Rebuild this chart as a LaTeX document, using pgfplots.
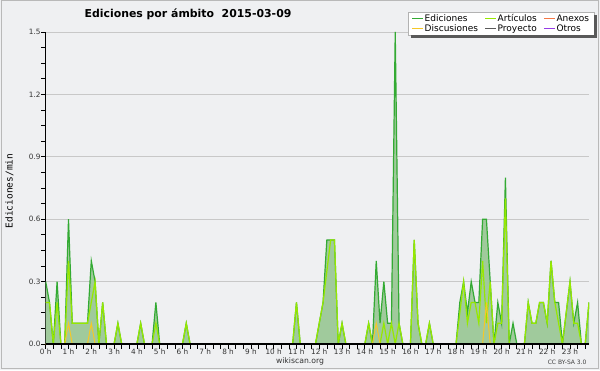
\documentclass[border=0pt]{standalone}
\usepackage{fontspec}
\setmainfont{DejaVu Sans}
\newfontfamily\monofont{DejaVu Sans Mono}
\usepackage{pgfplots}
\usepackage{pgfplotstable}
\pgfplotsset{compat=1.18}
\definecolor{bg}{RGB}{239,240,242}
\definecolor{edgreen}{RGB}{51,170,51}
\definecolor{edfill}{RGB}{160,202,156}
\definecolor{artgreen}{RGB}{150,232,0}
\definecolor{discyellow}{RGB}{245,200,40}
\definecolor{anexos}{RGB}{245,120,70}
\definecolor{proyecto}{RGB}{90,90,90}
\definecolor{otros}{RGB}{150,60,230}
\definecolor{gridgray}{RGB}{200,200,200}
\pgfplotstableread{
i ed art disc
0 0.3 0.2 0
1 0.2 0.2 0
2 0 0 0
3 0.3 0.2 0
4 0 0 0
5 0 0 0
6 0.6 0.4 0.1
7 0.1 0.1 0
8 0.1 0.1 0
9 0.1 0.1 0
10 0.1 0.1 0
11 0.1 0.1 0
12 0.4 0.2 0.1
13 0.3 0.3 0
14 0 0 0
15 0.2 0.2 0
16 0 0 0
17 0 0 0
18 0 0 0
19 0.1 0.1 0
20 0 0 0
21 0 0 0
22 0 0 0
23 0 0 0
24 0 0 0
25 0.1 0.1 0
26 0 0 0
27 0 0 0
28 0 0 0
29 0.2 0.1 0
30 0 0 0
31 0 0 0
32 0 0 0
33 0 0 0
34 0 0 0
35 0 0 0
36 0 0 0
37 0.1 0.1 0
38 0 0 0
39 0 0 0
40 0 0 0
41 0 0 0
42 0 0 0
43 0 0 0
44 0 0 0
45 0 0 0
46 0 0 0
47 0 0 0
48 0 0 0
49 0 0 0
50 0 0 0
51 0 0 0
52 0 0 0
53 0 0 0
54 0 0 0
55 0 0 0
56 0 0 0
57 0 0 0
58 0 0 0
59 0 0 0
60 0 0 0
61 0 0 0
62 0 0 0
63 0 0 0
64 0 0 0
65 0 0 0
66 0.2 0.2 0
67 0 0 0
68 0 0 0
69 0 0 0
70 0 0 0
71 0 0 0
72 0.1 0.1 0
73 0.2 0.2 0
74 0.5 0.35 0
75 0.5 0.5 0
76 0.5 0.5 0
77 0 0 0
78 0.1 0.1 0
79 0 0 0
80 0 0 0
81 0 0 0
82 0 0 0
83 0 0 0
84 0 0 0
85 0.1 0.1 0
86 0 0 0
87 0.4 0 0.1
88 0.1 0 0
89 0.3 0.1 0
90 0.1 0 0
91 0.1 0.1 0
92 1.5 0 0
93 0.1 0.1 0
94 0 0 0
95 0 0 0
96 0 0 0
97 0.5 0.5 0
98 0.1 0.1 0
99 0 0 0
100 0 0 0
101 0.1 0.1 0
102 0 0 0
103 0 0 0
104 0 0 0
105 0 0 0
106 0 0 0
107 0 0 0
108 0 0 0
109 0.2 0.15 0
110 0.3 0.3 0
111 0.15 0.1 0
112 0.3 0.2 0
113 0.2 0.2 0
114 0.2 0.1 0
115 0.6 0.4 0
116 0.6 0.1 0.2
117 0.3 0.3 0
118 0 0 0
119 0.2 0.1 0
120 0.1 0.1 0
121 0.8 0.7 0
122 0 0 0
123 0.1 0 0
124 0 0 0
125 0 0 0
126 0 0 0
127 0.2 0.2 0
128 0.1 0.1 0
129 0.1 0.1 0
130 0.2 0.2 0
131 0.2 0.2 0
132 0.1 0.1 0
133 0.4 0.4 0
134 0.2 0.2 0
135 0.2 0.1 0
136 0 0 0
137 0.15 0.15 0
138 0.3 0.3 0
139 0.1 0.1 0
140 0.2 0.1 0
141 0 0 0
142 0 0 0
143 0.2 0.2 0
}\datatable
\begin{document}
\begin{tikzpicture}[x=1pt,y=1pt]
\fill[bg] (0,0) rectangle (600,370);
\path[use as bounding box] (0,0) rectangle (600,370);
\draw[gray!55, line width=1pt] (1,1.5) rectangle (598.5,369);
\node[font=\bfseries\fontsize{10.9}{12}\selectfont] at (188,355.5) {Ediciones por ámbito\ \ 2015-03-09};
\node[rotate=90, font=\monofont\fontsize{9.5}{10}\selectfont] at (9.5,179) {Ediciones/min};
\node[font=\fontsize{7.7}{9}\selectfont, text=black!80] at (300,8.5) {wikiscan.org};
\node[anchor=east, font=\fontsize{6}{7}\selectfont, text=black!75] at (590,7.3) {CC BY-SA 3.0};
\begin{axis}[
  name=ax,
  at={(45.7pt,26pt)}, anchor=south west,
  scale only axis, width=543.3pt, height=312pt,
  xmin=0, xmax=143, ymin=0, ymax=1.5,
  axis lines*=left,
  axis line style={black, line width=1.3pt},
  tick style={black, line width=0.7pt},
  tick align=outside,
  major tick length=4.5pt, minor tick length=4.5pt,
  xtick={0,6,...,138},
  xticklabels={0 h,1 h,2 h,3 h,4 h,5 h,6 h,7 h,8 h,9 h,10 h,11 h,12 h,13 h,14 h,15 h,16 h,17 h,18 h,19 h,20 h,21 h,22 h,23 h},
  minor xtick={0,2,...,142},
  ytick={0,0.3,0.6,0.9,1.2,1.5},
  yticklabels={0.0,0.3,0.6,0.9,1.2,1.5},
  minor ytick={0.075,0.15,0.225,0.375,0.45,0.525,0.675,0.75,0.825,0.975,1.05,1.125,1.275,1.35,1.425},
  ymajorgrids,
  grid style={gridgray, line width=0.8pt},
  x tick label style={font=\fontsize{7.3}{8}\selectfont, text=black!80, inner sep=0.5pt},
  y tick label style={font=\fontsize{7.3}{8}\selectfont, text=black!80, inner sep=0.5pt},
  legend columns=3,
  legend cell align=left,
  legend image code/.code={\draw[#1, line width=1pt] (0pt,0pt) -- (11pt,0pt);},
  legend style={at={(1.0092,1.0631)}, anchor=north east, name=leg,
    font=\fontsize{9}{9}\selectfont, draw=gray!60, fill=white,
    inner xsep=4pt, inner ysep=1pt, nodes={inner sep=0.8pt},
    /tikz/every even column/.append style={column sep=6pt}},
]
\addplot[draw=none, fill=edfill, forget plot] table[x=i, y=ed] {\datatable} \closedcycle;
\addplot[edgreen, line width=1.2pt] table[x=i, y=ed] {\datatable};
\addlegendentry{Ediciones}
\addplot[artgreen, line width=1.2pt] table[x=i, y=art] {\datatable};
\addlegendentry{Artículos}
\addlegendimage{anexos}
\addlegendentry{Anexos}
\addplot[discyellow, line width=1pt] table[x=i, y=disc] {\datatable};
\addlegendentry{Discusiones}
\addlegendimage{proyecto}
\addlegendentry{Proyecto}
\addlegendimage{otros}
\addlegendentry{Otros}
\end{axis}
\draw[black, line width=1.3pt] (ax.south west) -- (ax.south east);
\fill[black!65] ([yshift=-3pt]leg.north east) rectangle ([xshift=3pt]leg.south east);
\fill[black!65] ([xshift=3pt]leg.south west) rectangle ([xshift=3pt,yshift=-3pt]leg.south east);
\end{tikzpicture}
\end{document}
